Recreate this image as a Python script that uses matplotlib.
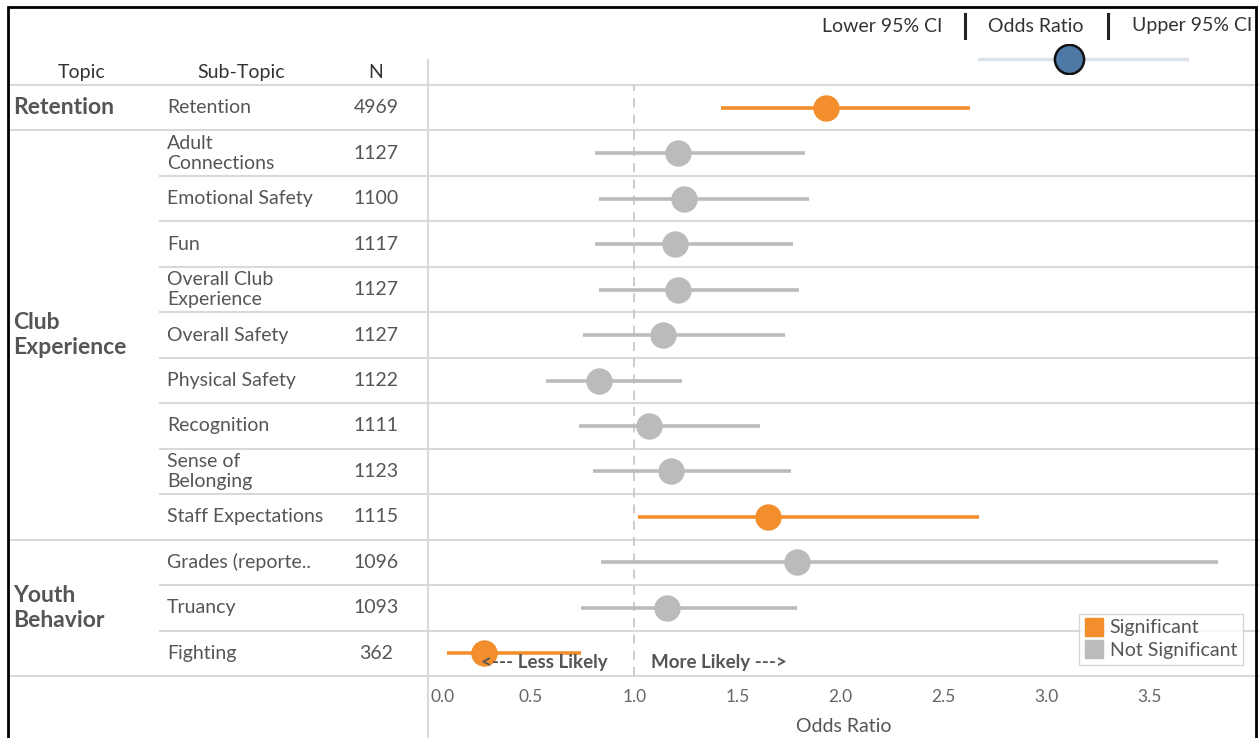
import matplotlib
matplotlib.use("Agg")
import matplotlib.pyplot as plt
import matplotlib.transforms as mtransforms
from matplotlib.lines import Line2D
from matplotlib.patches import Rectangle

plt.rcParams['font.family'] = ['Lato', 'DejaVu Sans']

# data
sub_topics = ['Retention', 'Adult\nConnections', 'Emotional Safety', 'Fun',
              'Overall Club\nExperience', 'Overall Safety', 'Physical Safety',
              'Recognition', 'Sense of\nBelonging', 'Staff Expectations',
              'Grades (reporte..', 'Truancy', 'Fighting']
topic_of = ['Retention'] + ['Club\nExperience'] * 9 + ['Youth\nBehavior'] * 3
topics = ['Retention', 'Club\nExperience', 'Youth\nBehavior']
n_values = [4969, 1127, 1100, 1117, 1127, 1127, 1122, 1111, 1123, 1115, 1096, 1093, 362]
odds = [1.93, 1.21, 1.24, 1.20, 1.21, 1.14, 0.83, 1.07, 1.18, 1.65, 1.79, 1.16, 0.27]
lower = [1.42, 0.81, 0.83, 0.81, 0.83, 0.75, 0.57, 0.73, 0.80, 1.02, 0.84, 0.74, 0.09]
upper = [2.63, 1.83, 1.85, 1.77, 1.80, 1.73, 1.23, 1.61, 1.76, 2.67, 3.83, 1.79, 0.74]
significant = [True, False, False, False, False, False, False, False, False, True, False, False, True]
x_ticks = [0.0, 0.5, 1.0, 1.5, 2.0, 2.5, 3.0, 3.5]

ORANGE = '#f28e2b'
GRAY = '#b9bbbd'
TXT = '#555555'
GRID = '#d9d9d9'

W, H = 1259, 738
fig = plt.figure(figsize=(W / 100, H / 100), dpi=100)

# main plot area in pixels: x 428..1259, y 85..676
ax = fig.add_axes([428 / W, 1 - 676 / H, (W - 428) / W, (676 - 85) / H])
ax.set_xlim(0, 4.03)
ax.set_ylim(len(sub_topics) - 0.5, -0.5)
for s in ax.spines.values():
    s.set_visible(False)
ax.set_yticks([])
ax.set_xticks(x_ticks)
ax.set_xticklabels([f'{t:.1f}' for t in x_ticks])
ax.tick_params(axis='x', length=0, colors='#666666', labelsize=12.5, pad=9)
ax.set_xlabel('Odds Ratio', fontsize=14, color='#555555', labelpad=10)
# first tick label sits just inside the axis
first = ax.get_xticklabels()[0]
first.set_transform(first.get_transform() + mtransforms.ScaledTranslation(0.15, 0, fig.dpi_scale_trans))

# reference line at 1.0
ax.axvline(1.0, color='#c8c8c8', lw=1.3, ls=(0, (5, 4)), zorder=1)

rows = list(range(len(sub_topics)))
for i in rows:
    c = ORANGE if significant[i] else GRAY
    ax.plot([lower[i], upper[i]], [i, i], color=c, lw=2.6, solid_capstyle='butt', zorder=2)
    ax.plot(odds[i], i, 'o', color=c, ms=18, zorder=3)

# table columns (x in figure pixels, y in data rows)
tr = mtransforms.blended_transform_factory(fig.transFigure, ax.transData)

def fx(px):
    return px / W

for i in rows:
    ax.text(fx(167), i, sub_topics[i], transform=tr, ha='left', va='center',
            fontsize=14, color=TXT, linespacing=1.2)
    ax.text(fx(376), i, str(n_values[i]), transform=tr, ha='center', va='center',
            fontsize=14, color=TXT)

for t in topics:
    idx = [i for i in rows if topic_of[i] == t]
    mid = sum(idx) / len(idx)
    ax.text(fx(13), mid, t, transform=tr, ha='left', va='center', fontsize=16.5,
            fontweight='bold', color=TXT, linespacing=1.25)

# headers
hy = -0.5 - (85 - 72) / 45.5
ax.text(fx(82), hy, 'Topic', transform=tr, ha='center', va='center', fontsize=14, color='#333333')
ax.text(fx(241), hy, 'Sub-Topic', transform=tr, ha='center', va='center', fontsize=14, color='#333333')
ax.text(fx(376), hy, 'N', transform=tr, ha='center', va='center', fontsize=14, color='#333333')

# row separators
bounds = [-0.5] + [i + 0.5 for i in rows]
for b in bounds:
    inner = -0.5 < b < len(rows) - 0.5 and topic_of[int(b - 0.5)] == topic_of[int(b + 0.5)]
    x0 = fx(160) if inner else fx(10)
    ax.plot([x0, 1.0], [b, b], transform=tr, color=GRID, lw=1.5, clip_on=False, zorder=0)

# vertical divider
fig.add_artist(Line2D([fx(428), fx(428)], [0, 1 - 60 / H], color=GRID, lw=1.5))

# direction hints
ax.text(0.87, 12.2, '<--- Less Likely', ha='right', va='center', fontsize=13.5,
        fontweight='bold', color=TXT, zorder=4)
ax.text(1.08, 12.2, 'More Likely --->', ha='left', va='center', fontsize=13.5,
        fontweight='bold', color=TXT, zorder=4)

# colour legend
handles = [Line2D([], [], marker='s', ls='', color=ORANGE, ms=13, label='Significant'),
           Line2D([], [], marker='s', ls='', color=GRAY, ms=13, label='Not Significant')]
leg = ax.legend(handles=handles, loc='lower right', bbox_to_anchor=((1243 - 428) / (W - 428), (676 - 665) / 591),
                fontsize=14, frameon=True, fancybox=False, handletextpad=0.3,
                borderpad=0.3, labelspacing=0.3, handlelength=1.0, borderaxespad=0)
leg.get_frame().set_edgecolor('#cccccc')
leg.get_frame().set_linewidth(1.0)
for t in leg.get_texts():
    t.set_color(TXT)

# top key: Lower | Odds Ratio | Upper
fig.text(fx(882), 1 - 26 / H, 'Lower 95% CI', ha='center', va='center', fontsize=14, color='#333333')
fig.text(fx(1036), 1 - 26 / H, 'Odds Ratio', ha='center', va='center', fontsize=14, color='#333333')
fig.text(fx(1192), 1 - 26 / H, 'Upper 95% CI', ha='center', va='center', fontsize=14, color='#333333')
for bx in [965, 1108]:
    fig.add_artist(Line2D([fx(bx), fx(bx)], [1 - 14 / H, 1 - 38 / H], color='#222222', lw=2.2))
key = fig.add_axes([978 / W, 1 - 74 / H, (1189 - 978) / W, 30 / H])
key.set_xlim(0, 1)
key.set_ylim(-1, 1)
key.axis('off')
key.plot([0, 1], [0, 0], color='#dde3ea', lw=2.5)
key.plot(0.43, 0, 'o', ms=21, color='#4e79a7', mec='#111111', mew=1.8)

# outer border
fig.add_artist(Rectangle((8 / W, -0.05), (1256 - 8) / W, 1 - 7 / H + 0.05, fill=False,
                         edgecolor='black', lw=2, transform=fig.transFigure))

fig.savefig('out.png', dpi=100, facecolor='white')
